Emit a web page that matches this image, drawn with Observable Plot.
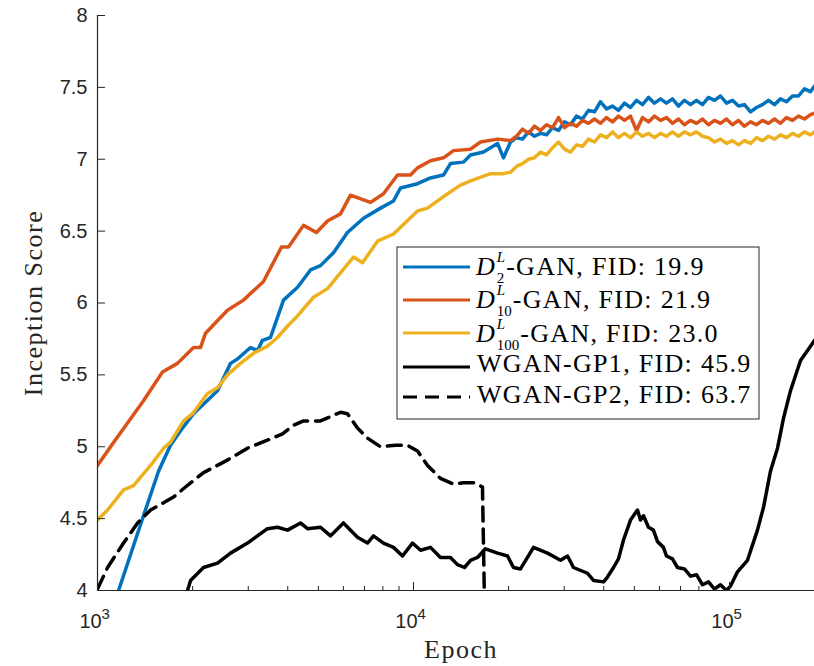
<!DOCTYPE html>
<html><head><meta charset="utf-8">
<script src="https://cdn.jsdelivr.net/npm/d3@7"></script>
<script src="https://cdn.jsdelivr.net/npm/@observablehq/plot@0.6"></script>
<style>body{margin:0;background:#fff;}#chart{width:814px;height:666px;}</style>
</head><body><div id="chart"></div>
<script>
// ---- tick values ----
const yTicks = [4, 4.5, 5, 5.5, 6, 6.5, 7, 7.5, 8];
const xMajor = [1e3, 1e4, 1e5];
const xMajorExp = ["3", "4", "5"];
const xMinor = [2e3,3e3,4e3,5e3,6e3,7e3,8e3,9e3,2e4,3e4,4e4,5e4,6e4,7e4,8e4,9e4];

// ---- series names / colours ----
const seriesSubs = ["2", "10", "100", null, null];
const seriesRest = ["-GAN, FID: 19.9", "-GAN, FID: 21.9", "-GAN, FID: 23.0", "WGAN-GP1, FID: 45.9", "WGAN-GP2, FID: 63.7"];
const seriesColors = ["#0072BD", "#D95319", "#EDB120", "#000000", "#000000"];

// ---- D2 (blue) early part ----
const d2Epochs = [1124,1166,1398,1560,1702,1858,2013,2398,2636,2773,3049,3208,3327,3527,3878,4296,4721,5078,5583,6181,6948,7865,8644,9097,10297,11320,12444,13094,14395,15154,16656,18447,19271];
const d2Scores = [3.90,4.00,4.52,4.83,5.01,5.13,5.23,5.39,5.58,5.61,5.69,5.67,5.74,5.76,6.02,6.11,6.23,6.26,6.35,6.49,6.59,6.66,6.71,6.80,6.83,6.87,6.89,6.97,6.98,7.03,7.05,7.11,7.01];
// ---- D10 (orange) early part ----
const d10Epochs = [1000,1124,1398,1606,1791,2013,2118,2197,2578,2897,3352,3823,4022,4487,4932,5343,5875,6318,7310,8037,8901,9783,10297,11320,12444,13384,15154,16293,18447];
const d10Scores = [4.87,5.03,5.32,5.52,5.58,5.69,5.69,5.79,5.95,6.02,6.15,6.39,6.39,6.54,6.49,6.57,6.62,6.75,6.70,6.76,6.89,6.89,6.94,6.99,7.01,7.06,7.07,7.12,7.14];
// ---- D100 (yellow) early part ----
const d100Epochs = [1000,1076,1209,1300,1472,1618,1702,1872,1999,2229,2398,2578,2835,3117,3451,3712,3995,4296,4826,5343,5875,6458,6897,7692,8644,10297,11075,12816,14090,15154,17520,19271];
const d100Scores = [4.49,4.56,4.70,4.73,4.87,4.99,5.03,5.18,5.23,5.37,5.41,5.50,5.58,5.65,5.70,5.76,5.84,5.91,6.04,6.10,6.21,6.32,6.28,6.43,6.48,6.64,6.66,6.76,6.82,6.85,6.90,6.90];

// ---- noisy late part, shared epochs ----
const tailEpochs = [20277,21180,22130,23120,24150,25230,26360,27540,28770,30050,31390,32800,34260,35790,37390,39060,40810,42640,44540,46530,48610,50790,53060,55430,57910,60480,63180,66010,68960,72040,75260,78630,82140,85810,89650,93650,97840,102200,106800,111500,116600,121700,127200,132900,138800,145000,151500,158300,165300,172700,180400,185800];
const d2Tail = [7.12,7.15,7.14,7.19,7.16,7.18,7.17,7.22,7.20,7.26,7.24,7.30,7.28,7.34,7.33,7.40,7.35,7.37,7.34,7.39,7.36,7.41,7.38,7.43,7.39,7.42,7.39,7.42,7.37,7.41,7.38,7.41,7.38,7.43,7.41,7.44,7.39,7.41,7.37,7.38,7.33,7.36,7.38,7.41,7.38,7.42,7.40,7.44,7.44,7.49,7.47,7.51];
const d10Tail = [7.13,7.16,7.21,7.18,7.23,7.20,7.24,7.22,7.29,7.22,7.25,7.23,7.27,7.25,7.28,7.25,7.29,7.26,7.30,7.27,7.30,7.20,7.29,7.26,7.30,7.27,7.29,7.25,7.28,7.24,7.27,7.25,7.28,7.24,7.27,7.25,7.28,7.24,7.27,7.23,7.26,7.24,7.27,7.25,7.28,7.25,7.29,7.27,7.30,7.28,7.31,7.32];
const d100Tail = [6.91,6.95,6.97,7.00,7.01,7.05,7.03,7.08,7.12,7.07,7.05,7.10,7.09,7.14,7.12,7.17,7.15,7.19,7.15,7.18,7.15,7.19,7.16,7.18,7.15,7.18,7.16,7.19,7.16,7.19,7.17,7.19,7.16,7.15,7.12,7.14,7.11,7.13,7.10,7.13,7.11,7.15,7.13,7.16,7.14,7.17,7.15,7.18,7.16,7.19,7.17,7.19];

// ---- WGAN-GP1 (solid black) ----
const gp1Epochs = [1900,1927,1970,2165,2398,2636,2984,3451,3712,3995,4391,4618,5078,5463,6002,6649,7151,7470,8037,8644,9231,9927,10525,11320,12174,13094,13779,14500,15154,15940,16895,18447,19843,20728,21810,23979,26560,29190,30720,32080,35530,37122,39930,41000,42960,44540,46180,48610,51150,52290,53430,55430,57460,59200,61810,63180,66010,68450,72040,75260,78630,82140,85810,89650,93650,97840,100700,106000,114000,122600,128200,134800,141900,148300,156000,167800,176600,185800];
const gp1Scores = [3.90,4.00,4.07,4.16,4.19,4.26,4.33,4.43,4.44,4.42,4.47,4.43,4.44,4.38,4.47,4.37,4.33,4.38,4.33,4.30,4.24,4.33,4.28,4.30,4.23,4.23,4.18,4.16,4.21,4.23,4.29,4.26,4.24,4.16,4.15,4.30,4.26,4.21,4.24,4.16,4.12,4.07,4.06,4.09,4.16,4.22,4.35,4.49,4.56,4.49,4.52,4.44,4.42,4.34,4.30,4.24,4.22,4.16,4.15,4.10,4.11,4.04,4.06,4.01,4.04,4.00,4.03,4.13,4.21,4.42,4.58,4.83,4.99,5.20,5.39,5.60,5.67,5.74];

// ---- WGAN-GP2 (dashed black) ----
const gp2Epochs = [1000,1076,1209,1339,1472,1618,1740,1899,2165,2542,2984,3579,3850,4172,4487,5078,5875,6181,6649,7151,7865,8770,9572,10297,11075,12174,13384,14395,15480,16530,16780];
const gp2Scores = [4.01,4.16,4.33,4.47,4.56,4.61,4.65,4.72,4.82,4.90,4.99,5.06,5.09,5.15,5.18,5.18,5.24,5.23,5.13,5.06,5.00,5.01,5.01,4.97,4.87,4.78,4.74,4.75,4.75,4.72,3.90];

const rows = (ep, sc) => ep.map((e, i) => ({epoch: e, score: sc[i]}));
const d2 = rows(d2Epochs.concat(tailEpochs), d2Scores.concat(d2Tail));
const d10 = rows(d10Epochs.concat(tailEpochs), d10Scores.concat(d10Tail));
const d100 = rows(d100Epochs.concat(tailEpochs), d100Scores.concat(d100Tail));
const gp1 = rows(gp1Epochs, gp1Scores);
const gp2 = rows(gp2Epochs, gp2Scores);

const axisColor = "#262626";
const dash = "14,8";
const serif = "'Liberation Serif', 'Times New Roman', serif";

const chart = Plot.plot({
  width: 814, height: 666,
  marginLeft: 97, marginRight: 0, marginTop: 15, marginBottom: 76,
  x: {type: "log", domain: [1000, 185800]},
  y: {domain: [4, 8]},
  style: {fontFamily: "'Liberation Sans', Arial, sans-serif", fontSize: "20px", color: axisColor, background: "#fff", overflow: "visible"},
  marks: [
    Plot.line(d2, {x: "epoch", y: "score", stroke: seriesColors[0], strokeWidth: 3.5, clip: true}),
    Plot.line(d10, {x: "epoch", y: "score", stroke: seriesColors[1], strokeWidth: 3.5, clip: true}),
    Plot.line(d100, {x: "epoch", y: "score", stroke: seriesColors[2], strokeWidth: 3.5, clip: true}),
    Plot.line(gp1, {x: "epoch", y: "score", stroke: seriesColors[3], strokeWidth: 3.5, clip: true}),
    Plot.line(gp2, {x: "epoch", y: "score", stroke: seriesColors[4], strokeWidth: 3.5, strokeDasharray: dash, clip: true}),
    Plot.ruleX([1000], {stroke: axisColor, strokeWidth: 1.2}),
    Plot.ruleY([4], {stroke: axisColor, strokeWidth: 1.2}),
    Plot.axisY(yTicks, {tickSize: -8, tickPadding: 18, tickFormat: d => String(d), label: null, fontSize: 20, fill: axisColor, stroke: axisColor}),
    Plot.axisX(xMajor, {tickSize: -8, tickFormat: () => "", label: null, stroke: axisColor}),
    Plot.axisX(xMinor, {tickSize: -4, tickFormat: () => "", label: null, stroke: axisColor}),
    Plot.text(xMajor, {x: d => d, y: 4, text: () => "10", dx: -7, dy: 37, lineAnchor: "bottom", textAnchor: "middle", fontSize: 20, fill: axisColor}),
    Plot.text(xMajor, {x: d => d, y: 4, text: (d, i) => xMajorExp[i], dx: 4, dy: 28, lineAnchor: "bottom", textAnchor: "start", fontSize: 15, fill: axisColor}),
    Plot.text(["Epoch"], {frameAnchor: "bottom", dx: 5, dy: 67, lineAnchor: "bottom", textAnchor: "middle", fontSize: 26, fontFamily: serif, fill: axisColor}),
    Plot.text(["Inception Score"], {frameAnchor: "left", rotate: -90, dx: -56, lineAnchor: "bottom", textAnchor: "middle", fontSize: 26, fontFamily: serif, fill: axisColor})
  ]
});
document.getElementById("chart").appendChild(chart);

const svg = d3.select(chart);
svg.selectAll("text").filter(function(){ return this.textContent === "Epoch" || this.textContent === "Inception Score"; })
  .attr("letter-spacing", "1.5px").style("font-family", serif);

// ---- legend ----
const lg = svg.append("g").attr("font-family", serif).attr("fill", "#000").attr("text-anchor", "start")
  .style("font-family", serif).style("text-anchor", "start");
lg.append("rect").attr("x", 397).attr("y", 247).attr("width", 362).attr("height", 172)
  .attr("fill", "#fff").attr("stroke", axisColor).attr("stroke-width", 1);
const lineY = [267, 300, 333, 367, 397];
const baseY = [275, 308, 342, 372, 403];
seriesRest.forEach((txt, i) => {
  lg.append("line").attr("x1", 403).attr("x2", 470).attr("y1", lineY[i]).attr("y2", lineY[i])
    .attr("stroke", seriesColors[i]).attr("stroke-width", 3)
    .attr("stroke-dasharray", i === 4 ? dash : null);
  let x = 477;
  if (seriesSubs[i]) {
    const d = lg.append("text").attr("x", 476).attr("y", baseY[i]).attr("font-size", 26).attr("font-style", "italic").text("D");
    const sx = 476 + d.node().getComputedTextLength() + 1;
    const sup = lg.append("text").attr("x", sx + 1).attr("y", baseY[i] - 13).attr("font-size", 15).attr("font-style", "italic").text("L");
    const sub = lg.append("text").attr("x", sx + 1).attr("y", baseY[i] + 8).attr("font-size", 15).text(seriesSubs[i]);
    x = sx + 1 + Math.max(sup.node().getComputedTextLength(), sub.node().getComputedTextLength()) + 1;
  }
  lg.append("text").attr("x", x).attr("y", baseY[i]).attr("font-size", 26).attr("letter-spacing", "1.3px").text(txt);
});
</script>
</body></html>
